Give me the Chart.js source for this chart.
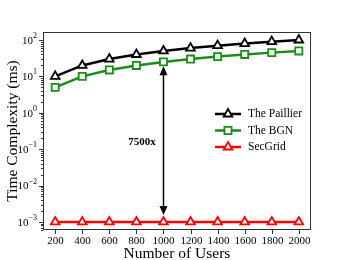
<!DOCTYPE html>
<html>
<head>
<meta charset="utf-8">
<script src="https://cdn.jsdelivr.net/npm/chart.js@4"></script>
<style>
  html, body { margin: 0; padding: 0; background: #fff; }
  #wrap { width: 346px; height: 260px; }
</style>
</head>
<body>
<div id="wrap"><canvas id="c" width="346" height="260"></canvas></div>
<script>
// data
const users = [200, 400, 600, 800, 1000, 1200, 1400, 1600, 1800, 2000];
const paillier = [10, 20, 30, 40, 50, 60, 70, 80, 90, 100];
const bgn = [5, 10, 15, 20, 25, 30, 35, 40, 45, 50];
const secgrid = [0.001, 0.001, 0.001, 0.001, 0.001, 0.001, 0.001, 0.001, 0.001, 0.001];
const yExponents = [-3, -2, -1, 0, 1, 2];
const seriesNames = ["The Paillier", "The BGN", "SecGrid"];

const SERIF = "'Liberation Serif', 'DejaVu Serif', serif";

function pts(vals) {
    return users.map((u, i) => ({ x: u, y: vals[i] }));
}

// axes, ticks, legend and arrow drawn by hand
const decorPlugin = {
    id: "decor",
    afterDatasetsDraw(chart) {
        const ctx = chart.ctx;
        const a = chart.chartArea;
        const xs = chart.scales.x;
        const ys = chart.scales.y;
        ctx.save();

        // frame
        ctx.strokeStyle = "#333";
        ctx.lineWidth = 1;
        ctx.strokeRect(a.left + 0.5, a.top + 0.5, a.right - a.left - 1, a.bottom - a.top - 1);

        // x ticks
        ctx.fillStyle = "#000";
        ctx.font = "11px " + SERIF;
        ctx.textAlign = "center";
        ctx.textBaseline = "top";
        users.forEach(u => {
            const px = Math.round(xs.getPixelForValue(u)) + 0.5;
            ctx.beginPath();
            ctx.moveTo(px, a.bottom);
            ctx.lineTo(px, a.bottom + 4);
            ctx.stroke();
            ctx.fillText(String(u), px, a.bottom + 6);
        });

        // y ticks, major and minor
        for (let e = -4; e <= 2; e++) {
            for (let m = 1; m <= 9; m++) {
                const v = m * Math.pow(10, e);
                if (v < ys.min || v > ys.max) continue;
                const py = Math.round(ys.getPixelForValue(v)) + 0.5;
                ctx.beginPath();
                ctx.moveTo(a.left, py);
                ctx.lineTo(a.left - (m === 1 ? 4 : 2), py);
                ctx.stroke();
            }
        }
        yExponents.forEach(e => {
            const py = ys.getPixelForValue(Math.pow(10, e));
            const sup = e < 0 ? "\u2212" + (-e) : String(e);
            ctx.font = "8px " + SERIF;
            const sw = ctx.measureText(sup).width;
            ctx.textAlign = "right";
            ctx.textBaseline = "middle";
            ctx.fillText(sup, a.left - 6, py - 4);
            ctx.font = "11px " + SERIF;
            ctx.fillText("10", a.left - 6 - sw, py + 1);
        });

        // axis titles
        ctx.font = "15.5px " + SERIF;
        ctx.textAlign = "center";
        ctx.textBaseline = "alphabetic";
        ctx.fillText("Number of Users", (a.left + a.right) / 2, 258);
        ctx.save();
        ctx.translate(17, (a.top + a.bottom) / 2);
        ctx.rotate(-Math.PI / 2);
        ctx.fillText("Time Complexity (ms)", 0, 0);
        ctx.restore();

        // arrow between BGN and SecGrid at 1000 users
        const ax = Math.round(xs.getPixelForValue(1000)) + 0.5;
        const yTop = ys.getPixelForValue(19);
        const yBot = ys.getPixelForValue(0.00155);
        ctx.strokeStyle = "#000";
        ctx.fillStyle = "#000";
        ctx.lineWidth = 1.5;
        ctx.beginPath();
        ctx.moveTo(ax, yTop + 6);
        ctx.lineTo(ax, yBot - 6);
        ctx.stroke();
        [[yTop, 1], [yBot, -1]].forEach(([ty, dir]) => {
            ctx.beginPath();
            ctx.moveTo(ax, ty);
            ctx.lineTo(ax - 4, ty + dir * 9);
            ctx.lineTo(ax + 4, ty + dir * 9);
            ctx.closePath();
            ctx.fill();
        });
        ctx.font = "bold 11px " + SERIF;
        ctx.textAlign = "center";
        ctx.textBaseline = "middle";
        ctx.fillText("7500x", 142, 142);

        // legend
        const ds = chart.data.datasets;
        ds.forEach((d, i) => {
            const ly = 114 + i * 16.5;
            ctx.strokeStyle = d.borderColor;
            ctx.lineWidth = 2.5;
            ctx.beginPath();
            ctx.moveTo(215, ly);
            ctx.lineTo(241, ly);
            ctx.stroke();
            ctx.fillStyle = "#fff";
            ctx.lineWidth = d.pointBorderWidth;
            Chart.helpers.drawPoint(ctx, {
                pointStyle: d.pointStyle,
                radius: d.pointRadius,
                borderWidth: d.pointBorderWidth,
                rotation: 0
            }, 228, ly);
            ctx.fillStyle = "#000";
            ctx.font = "11.5px " + SERIF;
            ctx.textAlign = "left";
            ctx.textBaseline = "middle";
            ctx.fillText(d.label, 248, ly);
        });

        ctx.restore();
    }
};

function series(label, vals, color, style) {
    return {
        label: label,
        data: pts(vals),
        borderColor: color,
        backgroundColor: "#fff",
        borderWidth: 2.5,
        pointStyle: style,
        pointRadius: 5,
        pointBorderWidth: 1.8,
        pointBackgroundColor: "#fff",
        pointBorderColor: color,
        tension: 0
    };
}

new Chart(document.getElementById("c"), {
    type: "line",
    data: {
        datasets: [
            series(seriesNames[0], paillier, "#000000", "triangle"),
            series(seriesNames[1], bgn, "#1a8c1a", "rect"),
            series(seriesNames[2], secgrid, "#ff0000", "triangle")
        ]
    },
    options: {
        responsive: false,
        animation: false,
        layout: { padding: { left: 43, right: 35, top: 32, bottom: 30 } },
        plugins: { legend: { display: false }, tooltip: { enabled: false } },
        scales: {
            x: { type: "linear", min: 110, max: 2090, display: false },
            y: { type: "logarithmic", min: 0.0006, max: 166, display: false }
        }
    },
    plugins: [decorPlugin]
});
</script>
</body>
</html>
